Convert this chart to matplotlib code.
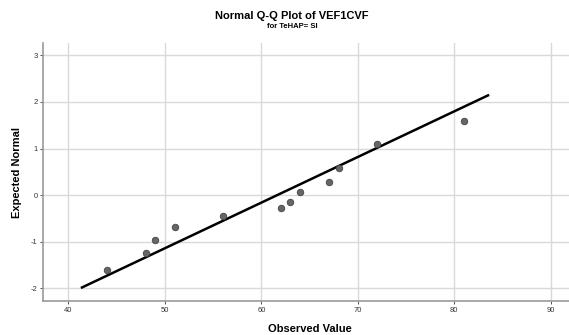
import numpy as np
import matplotlib.pyplot as plt

plt.rcParams['font.family'] = ['Liberation Sans', 'DejaVu Sans']
plt.rcParams['axes.unicode_minus'] = False

# data
observed = [44, 48, 49, 51, 56, 62, 63, 64, 67, 68, 72, 81]
expected = [-1.60, -1.23, -0.97, -0.68, -0.44, -0.28, -0.14, 0.07, 0.28, 0.58, 1.09, 1.59]
line_x = [41.4, 83.5]
line_y = [-1.98, 2.14]
xticks = [40, 50, 60, 70, 80, 90]
yticks = [-2, -1, 0, 1, 2, 3]

fig = plt.figure(figsize=(5.69, 3.35), dpi=100)
ax = fig.add_axes([0.0756, 0.1015, 0.9244, 0.771])

ax.grid(True, color='#d9d9d9', linewidth=1.0)
ax.set_axisbelow(True)
ax.plot(line_x, line_y, color='black', linewidth=1.8, zorder=3)
ax.scatter(observed, expected, s=22, color='#666666', edgecolors='#444444',
           linewidths=0.6, zorder=4)

ax.set_xlim(37.36, 91.9)
ax.set_ylim(-2.27, 3.27)
ax.set_xticks(xticks)
ax.set_yticks(yticks)
ax.tick_params(labelsize=5.5, colors='#333333', length=2, width=0.6, pad=2)

for s in ['top', 'right']:
    ax.spines[s].set_visible(False)
for s in ['left', 'bottom']:
    ax.spines[s].set_color('#999999')
    ax.spines[s].set_linewidth(1.2)

fig.text(0.545, 1 - 329 / 335, 'Observed Value', ha='center', va='center',
         fontsize=8, fontweight='bold')
fig.text(17 / 569, 1 - 172 / 335, 'Expected Normal', ha='center', va='center',
         rotation=90, fontsize=8, fontweight='bold')

fig.text(0.513, 1 - 16 / 335, 'Normal Q-Q Plot of VEF1CVF', ha='center', va='center',
         fontsize=8, fontweight='bold')
fig.text(0.513, 1 - 27 / 335, 'for TeHAP= SI', ha='center', va='center',
         fontsize=5.5, fontweight='bold')

fig.savefig('out.png', dpi=100)
